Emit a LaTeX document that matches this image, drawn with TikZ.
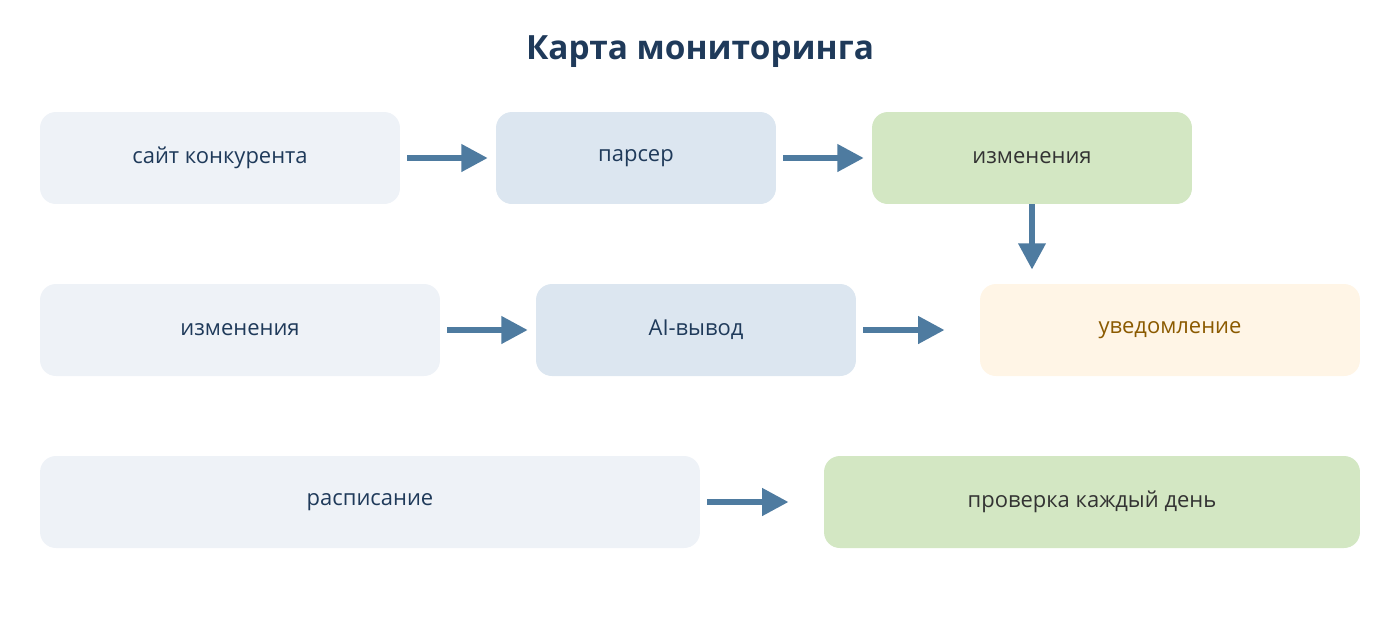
\documentclass[tikz,border=0pt]{standalone}
\usepackage{fontspec}
\setmainfont{Open Sans}
\usetikzlibrary{arrows.meta,positioning}
\definecolor{mtdark}{HTML}{1F3A5A}
\definecolor{mtarrow}{HTML}{4E7BA0}
\definecolor{mtpale}{HTML}{EEF2F7}
\definecolor{mtblue}{HTML}{DCE6F0}
\definecolor{mtgreen}{HTML}{D3E7C3}
\definecolor{mtcream}{HTML}{FFF5E6}
\definecolor{mtbrown}{HTML}{8B5A00}
\begin{document}
\begin{tikzpicture}[x=0.02cm, y=-0.02cm,
  box/.style={rounded corners=9pt, font=\fontsize{12.5}{15}\selectfont, text=mtdark, minimum height=1.84cm, inner sep=0pt},
  flow/.style={-{Triangle[length=15pt, width=15pt]}, line width=3.4pt, draw=mtarrow}]
\useasboundingbox (0,0) rectangle (1400,640);
% Title
\node[font=\fontsize{19}{23}\selectfont\bfseries, text=mtdark] (title) at (700,52) {Карта мониторинга};
% Row 1
\node[box, fill=mtpale, minimum width=7.2cm] (site) at (220,158) {сайт конкурента};
\node[box, fill=mtblue, minimum width=5.6cm] (parser) at (636,158) {парсер};
\node[box, fill=mtgreen, minimum width=6.4cm, text=black!80] (diff) at (1032,158) {изменения};
% Row 2
\node[box, fill=mtpale, minimum width=8cm] (changes) at (240,330) {изменения};
\node[box, fill=mtblue, minimum width=6.4cm] (ai) at (696,330) {AI-вывод};
\node[box, fill=mtcream, minimum width=7.6cm, text=mtbrown] (notify) at (1170,330) {уведомление};
% Row 3
\node[box, fill=mtpale, minimum width=13.2cm] (sched) at (370,502) {расписание};
\node[box, fill=mtgreen, minimum width=10.72cm, text=black!80] (daily) at (1092,502) {проверка каждый день};
% Arrows
\draw[flow, shorten <=4pt, shorten >=4.5pt] (site) -- (parser);
\draw[flow, shorten <=4pt, shorten >=4.5pt] (parser) -- (diff);
\draw[flow, shorten >=8pt] (diff.south) -- (diff.south |- notify.north);
\draw[flow, shorten <=4pt, shorten >=4.5pt] (changes) -- (ai);
\draw[flow, shorten <=4pt, shorten >=20pt] (ai) -- (notify);
\draw[flow, shorten <=4pt, shorten >=20pt] (sched) -- (daily);
\end{tikzpicture}
\end{document}
